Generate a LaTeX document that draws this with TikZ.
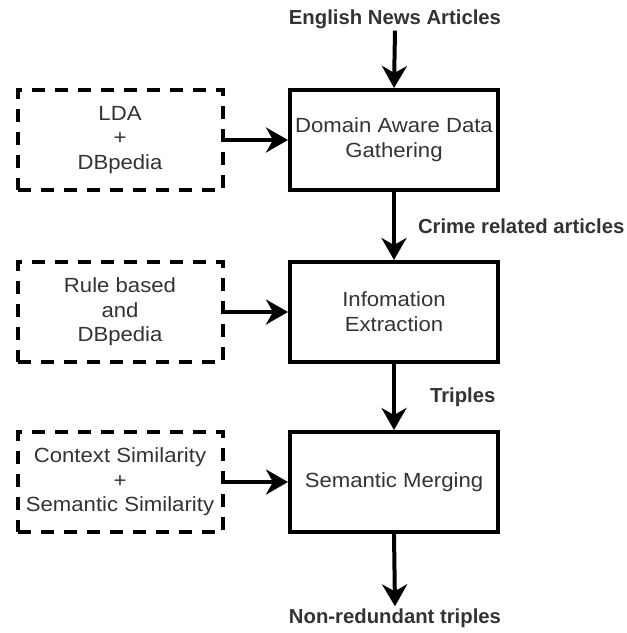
\documentclass[tikz,border=0pt]{standalone}
\usepackage{fontspec}
\setmainfont{Liberation Sans}[FakeStretch=1.08]
\newfontfamily\labelfont{Liberation Sans}
\usetikzlibrary{arrows.meta}
\definecolor{txt}{HTML}{333333}
\begin{document}
\begin{tikzpicture}[x=1pt,y=-1pt,
  stage/.style={draw=black, line width=4pt, minimum width=208pt, minimum height=100pt,
    align=center, text=txt, font=\fontsize{20.5}{25}\selectfont, inner sep=0pt},
  source/.style={draw=black, line width=4pt, dash pattern=on 13pt off 10pt,
    minimum width=205pt, minimum height=100pt,
    align=center, text=txt, font=\fontsize{20.5}{24.5}\selectfont, inner sep=0pt},
  flow/.style={-{Stealth[length=22pt,width=25pt,inset=7pt]}, line width=4pt},
  lbl/.style={text=txt, font=\labelfont\bfseries\fontsize{20.3}{24}\selectfont, inner sep=2pt}]
\useasboundingbox (0,0) rectangle (627,633);

% main pipeline
\node[lbl] (news) at (395,19) {English News Articles};
\node[stage] (gather) at (394,140) {Domain Aware Data\\Gathering};
\node[stage] (extract) at (394,312) {Infomation\\Extraction};
\node[stage] (merge) at (394,482) {Semantic Merging};
\node[lbl] (out) at (395,618) {Non-redundant triples};

% supporting resources
\node[source] (lda) at (120,140) {LDA\\+\\DBpedia};
\node[source] (rules) at (120,312) {Rule based\\and\\DBpedia};
\node[source] (sim) at (120,482) {Context Similarity\\+\\Semantic Similarity};

% flow between stages
\draw[flow] (news.south) -- (gather.north);
\draw[flow] (gather.south) -- node[lbl, right=20pt] {Crime related articles} (extract.north);
\draw[flow] (extract.south) -- node[lbl, right=32pt] {Triples} (merge.north);
\draw[flow] (merge.south) -- (out.north);

% resources feeding each stage
\draw[flow] (lda.east) -- (gather.west);
\draw[flow] (rules.east) -- (extract.west);
\draw[flow] (sim.east) -- (merge.west);
\end{tikzpicture}
\end{document}
